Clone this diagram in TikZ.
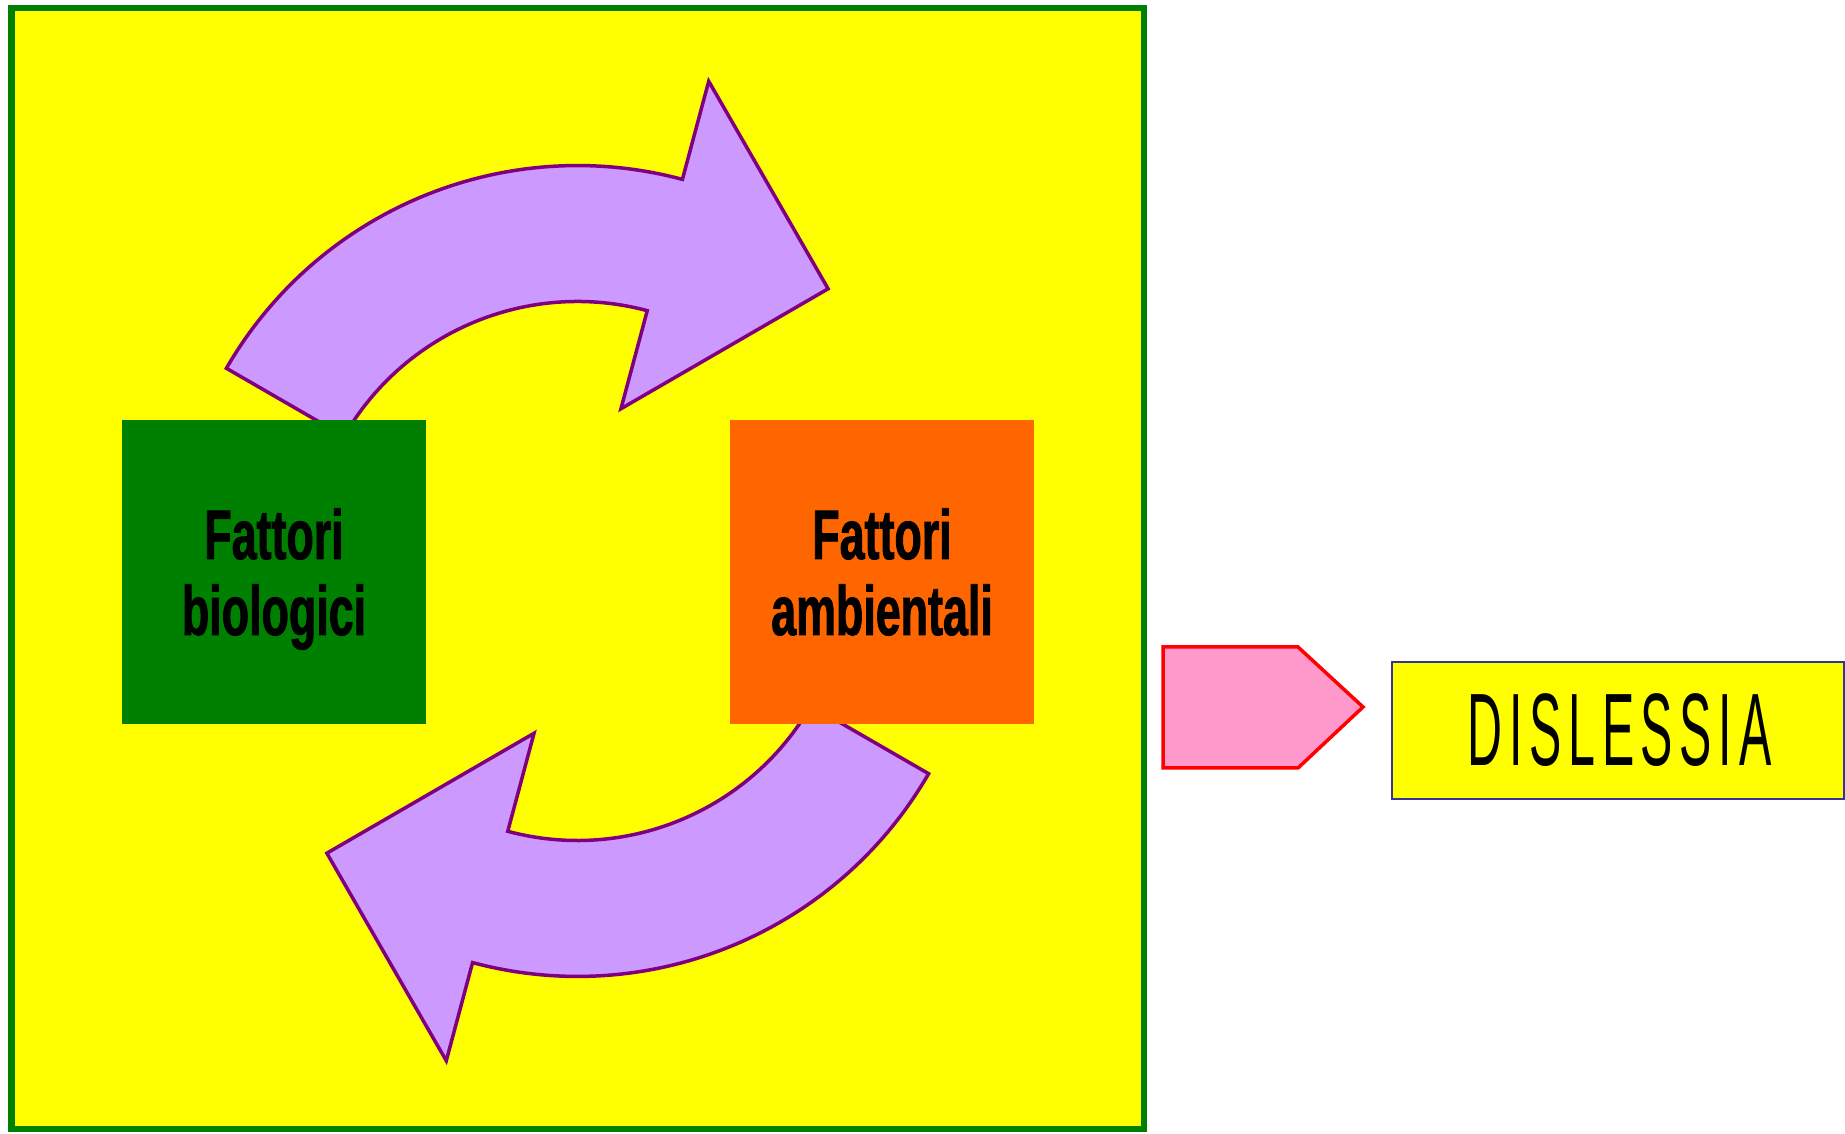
\documentclass[tikz,border=0pt]{standalone}
\usepackage{fontspec}
\newfontfamily\factorfont[FakeStretch=0.64, FakeBold=1.2]{Liberation Sans}
\newfontfamily\titlefont[FakeStretch=0.47, LetterSpace=6.5]{Liberation Sans}
\definecolor{panelYellow}{HTML}{FFFF00}
\definecolor{panelGreen}{HTML}{008000}
\definecolor{bioGreen}{HTML}{008000}
\definecolor{envOrange}{HTML}{FF6600}
\definecolor{loopFill}{HTML}{CC99FF}
\definecolor{loopLine}{HTML}{800080}
\definecolor{pointerFill}{HTML}{FF99CC}
\definecolor{pointerLine}{HTML}{FF0000}
\definecolor{titleLine}{HTML}{333399}
\tikzset{
  panel/.style={fill=panelYellow, draw=panelGreen, line width=6.5pt},
  loopstyle/.style={fill=loopFill, draw=loopLine, line width=3.5pt, line join=miter},
  factorbox/.style={minimum width=304pt, minimum height=304pt, inner sep=0pt},
  factortext/.style={inner sep=0pt, align=center, text=black,
    font=\factorfont\bfseries\fontsize{70pt}{76pt}\selectfont},
  pointer/.style={fill=pointerFill, draw=pointerLine, line width=3.5pt, line join=miter},
  titlebox/.style={fill=panelYellow, draw=titleLine, line width=1.5pt,
    minimum width=452pt, minimum height=137pt, inner sep=0pt, text=black,
    font=\titlefont\fontsize{103pt}{110pt}\selectfont},
  cyclearrow/.pic={
    \draw[loopstyle]
      (150:405.4pt) arc[start angle=150, end angle=75, radius=405.4pt]
      -- (75:507pt) -- (250.6pt,282.2pt) -- (75:168pt) -- (75:269.5pt)
      arc[start angle=75, end angle=150, radius=269.5pt] -- cycle;
  }
}
\begin{document}
\begin{tikzpicture}[x=1pt, y=1pt]
  \useasboundingbox (0,0) rectangle (1845,1134);
  % yellow panel holding the cycle
  \draw[panel] (11.5,5) rectangle (1144,1126);
  \coordinate (hub) at (577.5,563);
  % the two curved arrows of the cycle
  \pic at (hub) {cyclearrow};
  \pic[rotate=180] at (hub) {cyclearrow};
  % factor boxes and their labels
  \node[factorbox, fill=bioGreen] (bio) at (274,562) {};
  \node[factorbox, fill=envOrange] (env) at (882,562) {};
  \node[factortext] (biotext) at ([yshift=-9.8pt]bio.center) {\strut Fattori\\\strut biologici};
  \node[factortext] (envtext) at ([yshift=-9.8pt]env.center) {\strut Fattori\\\strut ambientali};
  % pointer towards the outcome
  \coordinate (p1) at (1163,487);
  \coordinate (p2) at (1298,487);
  \coordinate (p3) at (1363,427);
  \coordinate (p4) at (1298,366);
  \coordinate (p5) at (1163,366);
  \draw[pointer] (p1) -- (p2) -- (p3) -- (p4) -- (p5) -- cycle;
  % outcome
  \node[titlebox] (dis) at (1618,403.5) {\hspace*{3pt}DISLESSIA};
\end{tikzpicture}
\end{document}
